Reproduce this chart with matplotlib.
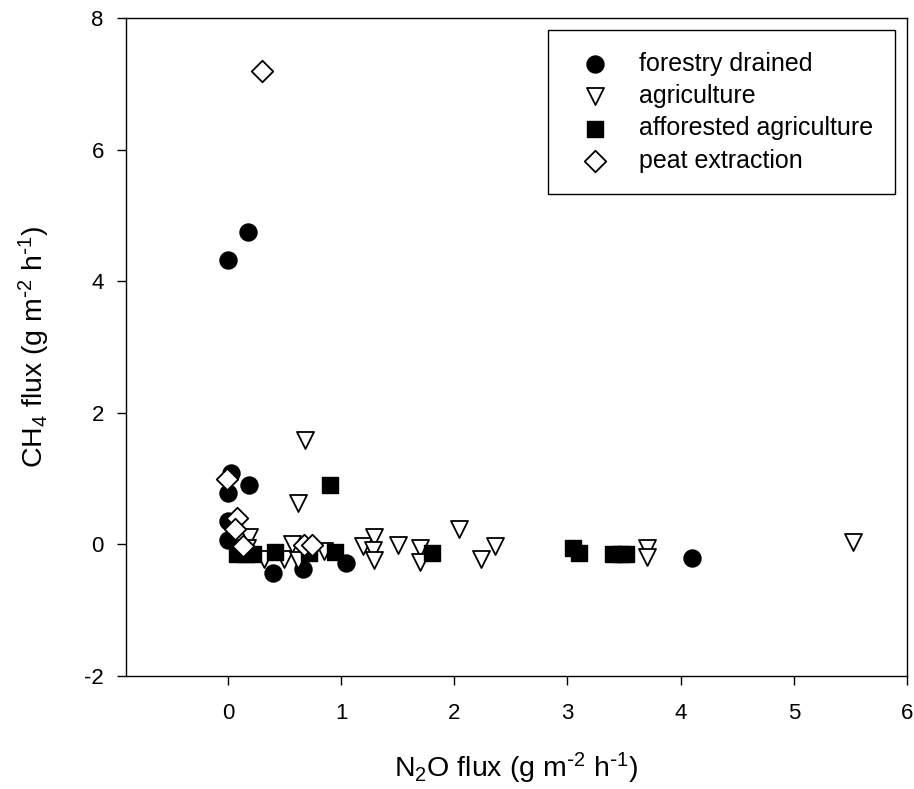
import matplotlib
matplotlib.use("Agg")
import matplotlib.pyplot as plt

plt.rcParams['font.family'] = ['Liberation Sans', 'DejaVu Sans']
plt.rcParams['mathtext.default'] = 'regular'
plt.rcParams['axes.unicode_minus'] = False

forestry_x = [0.0, 0.18, 0.03, 0.19, 0.0, 0.0, 0.0, 0.40, 0.66, 1.04, 4.10]
forestry_y = [4.32, 4.75, 1.08, 0.90, 0.78, 0.35, 0.06, -0.43, -0.37, -0.28, -0.20]

agri_x = [0.68, 0.62, 0.19, 0.17, 0.32, 0.50, 0.57, 0.62, 0.85, 1.19, 1.29, 1.28,
          1.29, 1.50, 1.70, 1.70, 2.04, 2.24, 2.36, 3.70, 3.70, 5.52]
agri_y = [1.58, 0.63, 0.12, -0.05, -0.22, -0.22, 0.0, -0.24, -0.10, -0.03, 0.12, -0.09,
          -0.23, -0.01, -0.06, -0.26, 0.24, -0.22, -0.03, -0.06, -0.19, 0.04]

affor_x = [0.90, 0.08, 0.16, 0.22, 0.42, 0.72, 0.95, 1.80, 3.05, 3.10, 3.40, 3.47, 3.52]
affor_y = [0.91, -0.15, -0.15, -0.15, -0.12, -0.13, -0.12, -0.13, -0.06, -0.13, -0.15, -0.15, -0.15]

peat_x = [0.30, -0.01, 0.08, 0.06, 0.13, 0.67, 0.74]
peat_y = [7.20, 1.00, 0.40, 0.24, -0.03, -0.01, -0.01]

x_ticks = [0, 1, 2, 3, 4, 5, 6]
y_ticks = [-2, 0, 2, 4, 6, 8]

fig = plt.figure(figsize=(9.14, 7.89), dpi=100)
ax = fig.add_axes([126/914, 1 - 676/789, (907-126)/914, (676-18)/789])

ax.scatter(forestry_x, forestry_y, marker='o', s=150, c='black', edgecolors='black',
           linewidths=1, label='forestry drained', zorder=3)
ax.scatter(agri_x, agri_y, marker='v', s=150, c='white', edgecolors='black',
           linewidths=1.3, label='agriculture', zorder=3)
ax.scatter(affor_x, affor_y, marker='s', s=130, c='black', edgecolors='black',
           linewidths=1, label='afforested agriculture', zorder=3)
ax.scatter(peat_x, peat_y, marker='D', s=120, c='white', edgecolors='black',
           linewidths=1.3, label='peat extraction', zorder=4)

ax.set_xlim(-0.9, 6)
ax.set_ylim(-2, 8)
ax.set_xticks(x_ticks)
ax.set_yticks(y_ticks)
ax.tick_params(direction='out', length=6.5, width=1, labelsize=16)
ax.tick_params(axis='x', pad=13)
ax.tick_params(axis='y', pad=9.5)
for sp in ax.spines.values():
    sp.set_linewidth(1)

ax.set_xlabel(r'N$_2$O flux (g m$^{\text{-}2}$ h$^{\text{-}1}$)', fontsize=20.5, labelpad=19)
ax.set_ylabel(r'CH$_4$ flux (g m$^{\text{-}2}$ h$^{\text{-}1}$)', fontsize=20.5, labelpad=23)

leg = ax.legend(loc='upper right', fontsize=18, frameon=True, fancybox=False,
                edgecolor='black', framealpha=1, borderpad=0.87, labelspacing=0.33,
                handlelength=2.0, handletextpad=0.77, scatterpoints=1,
                borderaxespad=0.48)
leg.get_frame().set_linewidth(1)

fig.savefig('out.png', dpi=100)
